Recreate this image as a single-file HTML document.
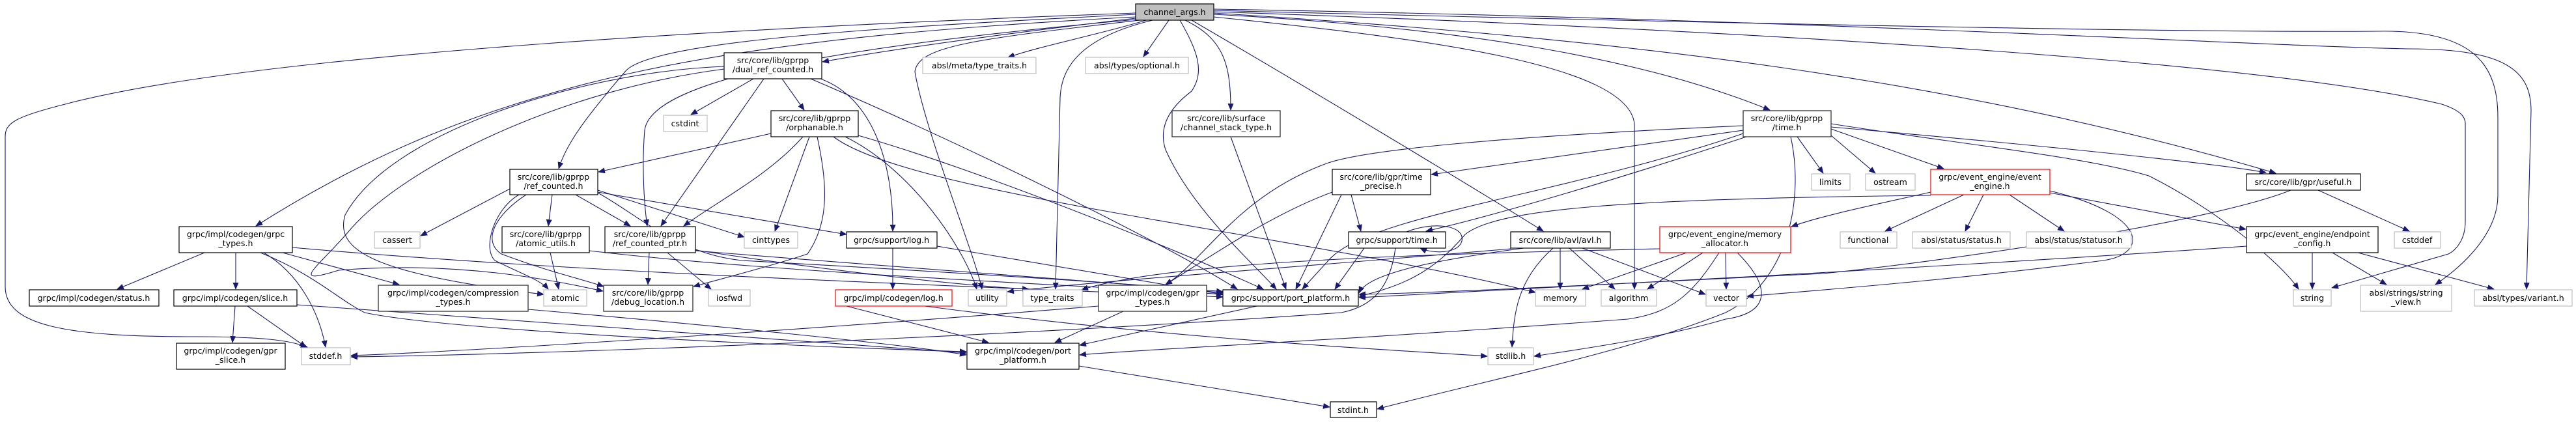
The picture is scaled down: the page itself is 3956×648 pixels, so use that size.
<!DOCTYPE html>
<html><head><meta charset="utf-8"><style>
html,body{margin:0;padding:0;background:#fff;}
svg{display:block;}
text{font-family:"DejaVu Sans","Liberation Sans",sans-serif;font-size:12.6px;fill:#000;text-anchor:middle;}
.n rect{fill:#fff;stroke:#000;stroke-width:1.2;}
.g rect{fill:#fff;stroke:#bfbfbf;stroke-width:1.2;}
.d rect{fill:#fff;stroke:#404040;stroke-width:1.4;}
.r rect{fill:#fff;stroke:#ff0000;stroke-width:1.2;}
.e path{fill:none;stroke:#191970;stroke-width:1.1;marker-end:url(#a);}
</style></head><body>
<svg width="3956" height="648" viewBox="0 0 3956 648" xmlns="http://www.w3.org/2000/svg">
<defs><marker id="a" markerWidth="11" markerHeight="9" refX="10" refY="4.5" orient="auto" markerUnits="userSpaceOnUse"><path d="M0,0 L11,4.5 L0,9z" fill="#191970"/></marker></defs>
<g class="e">
<path d="M1760,31 C1700,50 1600,70 1548,88"/>
<path d="M1795,31 L1756,87"/>
<path d="M1744,28 C1600,45 1400,70 1263,95"/>
<path d="M1744,22 C1400,40 1000,60 960,110 C900,180 870,220 858,259"/>
<path d="M1744,30 C1300,70 1000,120 990,200 C985,260 990,320 994,347"/>
<path d="M1744,26 C1100,60 750,120 393,347"/>
<path d="M1744,20 C1200,40 400,80 100,160 C20,180 8,190 8,210 L8,440 C8,500 100,517 300,517 C420,517 450,525 472,533"/>
<path d="M1750,31 C1500,60 1410,70 1405,110 C1420,200 1500,400 1508,444"/>
<path d="M1770,31 C1650,60 1630,110 1628,150 L1621,444"/>
<path d="M1812,31 C1840,80 1850,110 1830,140 C1790,170 1780,200 1790,230 C1830,320 1920,400 1960,444"/>
<path d="M1820,31 C1880,60 1890,100 1890,169"/>
<path d="M1830,31 C2000,130 2250,280 2370,355"/>
<path d="M1864,22 C2200,40 2500,80 2718,169"/>
<path d="M1864,26 C2200,60 2500,100 2510,190 L2510,444"/>
<path d="M1864,20 C2500,60 3000,120 3495,266"/>
<path d="M1864,18 C2800,50 3500,100 3750,160 C3780,170 3786,180 3786,190 L3786,340 C3786,370 3770,385 3760,390 L3581,442"/>
<path d="M1864,16 C2800,40 3400,50 3650,48 C3800,45 3836,100 3836,180 L3836,300 C3836,360 3780,410 3740,437"/>
<path d="M1864,14 C2800,30 3450,70 3700,75 C3850,75 3887,110 3887,170 L3880,444"/>
<path d="M1157,121 L1061,176"/>
<path d="M1201,121 L1235,169"/>
<path d="M1173,121 L1015,347"/>
<path d="M1260,121 C1340,150 1372,250 1371,355"/>
<path d="M1245,121 C1500,230 1800,380 1900,444"/>
<path d="M1112,102 C900,110 600,200 530,330 C515,380 560,420 835,452"/>
<path d="M1112,106 C850,140 620,260 540,350 C490,410 440,440 520,415 C700,400 850,430 926,447"/>
<path d="M1184,205 L919,264"/>
<path d="M1233,210 C1180,270 1100,310 1050,347"/>
<path d="M1243,210 L1190,355"/>
<path d="M1255,210 C1270,280 1275,340 1240,390 C1180,410 1100,430 1065,440"/>
<path d="M1318,208 C1500,260 1800,380 1940,444"/>
<path d="M1298,210 C1400,260 1480,380 1500,444"/>
<path d="M1280,210 C1400,300 2000,360 2358,449"/>
<path d="M848,299 L842,347"/>
<path d="M884,299 L968,347"/>
<path d="M918,292 L1143,364"/>
<path d="M918,295 L1300,360"/>
<path d="M797,299 C760,320 740,380 760,400 C800,420 830,430 842,444"/>
<path d="M808,299 C760,330 740,370 770,390 C850,420 900,430 927,440"/>
<path d="M783,290 L646,362"/>
<path d="M918,296 C980,330 1040,390 1140,400 C1500,420 1800,440 1878,448"/>
<path d="M845,388 L858,444"/>
<path d="M905,385 C1200,420 1700,440 1878,452"/>
<path d="M997,388 L995,437"/>
<path d="M1025,388 L1092,444"/>
<path d="M1068,385 C1500,420 1800,440 1878,450"/>
<path d="M1068,384 C1300,420 1500,440 1580,444"/>
<path d="M1371,381 L1371,444"/>
<path d="M1439,378 L1878,452"/>
<path d="M1300,470 L1518,526"/>
<path d="M1420,470 C1800,520 2100,535 2284,547"/>
<path d="M314,388 L180,444"/>
<path d="M362,388 L362,444"/>
<path d="M434,388 L613,437"/>
<path d="M405,388 C460,420 490,480 500,533"/>
<path d="M400,388 C480,420 520,460 560,480 C700,510 1300,535 1484,540"/>
<path d="M449,380 C900,420 1500,440 1878,456"/>
<path d="M361,470 L357,526"/>
<path d="M380,470 L470,533"/>
<path d="M456,468 C900,500 1300,530 1484,542"/>
<path d="M811,475 C1100,500 1400,530 1484,545"/>
<path d="M1890,210 L1975,444"/>
<path d="M1725,478 L1620,526"/>
<path d="M1687,470 C1200,510 700,540 539,546"/>
<path d="M1930,470 L1658,530"/>
<path d="M1657,562 L2042,625"/>
<path d="M2075,299 L2090,355"/>
<path d="M2060,299 L1990,444"/>
<path d="M2046,295 C1950,330 1850,400 1790,437"/>
<path d="M2160,356 C2200,340 2250,345 2245,370 C2240,390 2200,390 2181,381"/>
<path d="M2095,381 L2050,444"/>
<path d="M2143,381 C2135,440 2110,470 2060,480 C1500,520 800,545 539,548"/>
<path d="M2396,381 L2396,444"/>
<path d="M2410,381 L2480,444"/>
<path d="M2430,381 L2619,452"/>
<path d="M2385,381 C2330,430 2325,480 2322,533"/>
<path d="M2340,381 C2200,400 2100,420 2087,450"/>
<path d="M2320,382 C2000,410 1700,430 1547,448"/>
<path d="M2590,388 L2430,444"/>
<path d="M2615,388 L2530,444"/>
<path d="M2650,388 L2651,444"/>
<path d="M2668,388 C2720,440 2720,480 2650,490 C2550,520 2400,540 2356,547"/>
<path d="M2640,388 C2600,450 2570,480 2500,490 C2100,520 1700,540 1658,545"/>
<path d="M2549,382 C2200,390 1800,400 1661,445"/>
<path d="M2677,200 L2198,268"/>
<path d="M2682,210 C2500,270 2300,330 2190,355"/>
<path d="M2760,210 L2800,266"/>
<path d="M2812,208 L2880,266"/>
<path d="M2812,198 L2985,259"/>
<path d="M2812,195 C3100,220 3400,250 3480,265"/>
<path d="M2812,190 C3000,220 3200,240 3300,270 C3400,320 3500,400 3530,444"/>
<path d="M2677,193 C2300,210 2100,230 2040,250 C1900,300 1850,400 1790,437"/>
<path d="M2677,205 C2400,300 2100,330 2040,400 L2000,444"/>
<path d="M2750,210 C2770,300 2750,430 2650,480 C2500,540 2300,580 2115,628"/>
<path d="M3016,299 L2895,355"/>
<path d="M3046,299 L3018,355"/>
<path d="M3086,299 L3170,355"/>
<path d="M2965,295 C2900,310 2800,330 2751,348"/>
<path d="M3148,296 L3449,352"/>
<path d="M3148,293 C3300,330 3300,390 3230,400 C3000,430 2800,445 2683,455"/>
<path d="M2965,300 C2500,305 2300,320 2250,360 C2200,420 2150,440 2087,455"/>
<path d="M3560,292 L3700,355"/>
<path d="M3518,292 C3400,340 3000,400 2800,420 C2400,440 2200,450 2087,452"/>
<path d="M3450,378 C3000,410 2400,440 2087,457"/>
<path d="M3551,388 L3551,444"/>
<path d="M3582,388 L3665,437"/>
<path d="M3621,388 L3830,444"/>
</g>
<g class="n"><rect x="1744" y="6" width="120" height="25" style="fill:#bfbfbf"/><text x="1804" y="23">channel_args.h</text></g>
<g class="n"><rect x="1112" y="81" width="150" height="40"/><text x="1187" y="97">src/core/lib/gprpp</text><text x="1187" y="111">/dual_ref_counted.h</text></g>
<g class="g"><rect x="1019" y="177" width="67" height="25"/><text x="1052" y="194">cstdint</text></g>
<g class="n"><rect x="1184" y="170" width="134" height="40"/><text x="1251" y="186">src/core/lib/gprpp</text><text x="1251" y="200">/orphanable.h</text></g>
<g class="n"><rect x="783" y="260" width="135" height="39"/><text x="850" y="276">src/core/lib/gprpp</text><text x="850" y="290">/ref_counted.h</text></g>
<g class="n"><rect x="771" y="348" width="134" height="40"/><text x="838" y="364">src/core/lib/gprpp</text><text x="838" y="378">/atomic_utils.h</text></g>
<g class="n"><rect x="929" y="348" width="139" height="40"/><text x="998" y="364">src/core/lib/gprpp</text><text x="998" y="378">/ref_counted_ptr.h</text></g>
<g class="g"><rect x="1143" y="356" width="82" height="25"/><text x="1184" y="373">cinttypes</text></g>
<g class="n"><rect x="1300" y="356" width="139" height="25"/><text x="1369" y="373">grpc/support/log.h</text></g>
<g class="g"><rect x="835" y="445" width="66" height="25"/><text x="868" y="462">atomic</text></g>
<g class="d"><rect x="927" y="438" width="137" height="40"/><text x="995" y="454">src/core/lib/gprpp</text><text x="995" y="468">/debug_location.h</text></g>
<g class="g"><rect x="1088" y="445" width="64" height="25"/><text x="1120" y="462">iosfwd</text></g>
<g class="r"><rect x="1283" y="445" width="179" height="25"/><text x="1372" y="462">grpc/impl/codegen/log.h</text></g>
<g class="n"><rect x="275" y="348" width="174" height="40"/><text x="362" y="364">grpc/impl/codegen/grpc</text><text x="362" y="378">_types.h</text></g>
<g class="n"><rect x="45" y="445" width="199" height="25"/><text x="144" y="462">grpc/impl/codegen/status.h</text></g>
<g class="n"><rect x="267" y="445" width="189" height="25"/><text x="361" y="462">grpc/impl/codegen/slice.h</text></g>
<g class="n"><rect x="271" y="527" width="167" height="40"/><text x="354" y="543">grpc/impl/codegen/gpr</text><text x="354" y="557">_slice.h</text></g>
<g class="g"><rect x="463" y="534" width="75" height="26"/><text x="500" y="551">stddef.h</text></g>
<g class="g"><rect x="575" y="356" width="70" height="25"/><text x="610" y="373">cassert</text></g>
<g class="d"><rect x="581" y="438" width="230" height="40"/><text x="696" y="454">grpc/impl/codegen/compression</text><text x="696" y="468">_types.h</text></g>
<g class="g"><rect x="1417" y="88" width="174" height="25"/><text x="1504" y="105">absl/meta/type_traits.h</text></g>
<g class="g"><rect x="1667" y="88" width="158" height="25"/><text x="1746" y="105">absl/types/optional.h</text></g>
<g class="d"><rect x="1800" y="170" width="166" height="40"/><text x="1883" y="186">src/core/lib/surface</text><text x="1883" y="200">/channel_stack_type.h</text></g>
<g class="g"><rect x="1487" y="445" width="59" height="25"/><text x="1516" y="462">utility</text></g>
<g class="g"><rect x="1571" y="445" width="91" height="25"/><text x="1616" y="462">type_traits</text></g>
<g class="d"><rect x="1687" y="438" width="166" height="40"/><text x="1770" y="454">grpc/impl/codegen/gpr</text><text x="1770" y="468">_types.h</text></g>
<g class="n"><rect x="1878" y="445" width="208" height="25"/><text x="1982" y="462">grpc/support/port_platform.h</text></g>
<g class="n"><rect x="1485" y="527" width="172" height="40"/><text x="1571" y="543">grpc/impl/codegen/port</text><text x="1571" y="557">_platform.h</text></g>
<g class="n"><rect x="2043" y="617" width="71" height="24"/><text x="2078" y="634">stdint.h</text></g>
<g class="n"><rect x="2046" y="260" width="151" height="39"/><text x="2121" y="276">src/core/lib/gpr/time</text><text x="2121" y="290">_precise.h</text></g>
<g class="n"><rect x="2071" y="356" width="149" height="25"/><text x="2145" y="373">grpc/support/time.h</text></g>
<g class="n"><rect x="2320" y="356" width="153" height="25"/><text x="2396" y="373">src/core/lib/avl/avl.h</text></g>
<g class="r"><rect x="2549" y="348" width="201" height="40"/><text x="2649" y="364">grpc/event_engine/memory</text><text x="2649" y="378">_allocator.h</text></g>
<g class="g"><rect x="2358" y="445" width="77" height="25"/><text x="2396" y="462">memory</text></g>
<g class="g"><rect x="2459" y="445" width="85" height="25"/><text x="2501" y="462">algorithm</text></g>
<g class="g"><rect x="2620" y="445" width="62" height="25"/><text x="2651" y="462">vector</text></g>
<g class="g"><rect x="2285" y="534" width="70" height="26"/><text x="2320" y="551">stdlib.h</text></g>
<g class="d"><rect x="2677" y="170" width="135" height="40"/><text x="2744" y="186">src/core/lib/gprpp</text><text x="2744" y="200">/time.h</text></g>
<g class="g"><rect x="2782" y="267" width="59" height="25"/><text x="2811" y="284">limits</text></g>
<g class="g"><rect x="2865" y="267" width="76" height="25"/><text x="2903" y="284">ostream</text></g>
<g class="r"><rect x="2965" y="260" width="183" height="39"/><text x="3056" y="276">grpc/event_engine/event</text><text x="3056" y="290">_engine.h</text></g>
<g class="g"><rect x="2826" y="356" width="87" height="25"/><text x="2869" y="373">functional</text></g>
<g class="g"><rect x="2937" y="356" width="150" height="25"/><text x="3012" y="373">absl/status/status.h</text></g>
<g class="g"><rect x="3112" y="356" width="161" height="25"/><text x="3192" y="373">absl/status/statusor.h</text></g>
<g class="n"><rect x="3450" y="267" width="175" height="25"/><text x="3537" y="284">src/core/lib/gpr/useful.h</text></g>
<g class="n"><rect x="3450" y="348" width="202" height="40"/><text x="3551" y="364">grpc/event_engine/endpoint</text><text x="3551" y="378">_config.h</text></g>
<g class="g"><rect x="3677" y="356" width="71" height="25"/><text x="3712" y="373">cstddef</text></g>
<g class="g"><rect x="3522" y="445" width="58" height="25"/><text x="3551" y="462">string</text></g>
<g class="g"><rect x="3625" y="438" width="140" height="40"/><text x="3695" y="454">absl/strings/string</text><text x="3695" y="468">_view.h</text></g>
<g class="g"><rect x="3800" y="445" width="150" height="25"/><text x="3875" y="462">absl/types/variant.h</text></g>
</svg>
</body></html>
